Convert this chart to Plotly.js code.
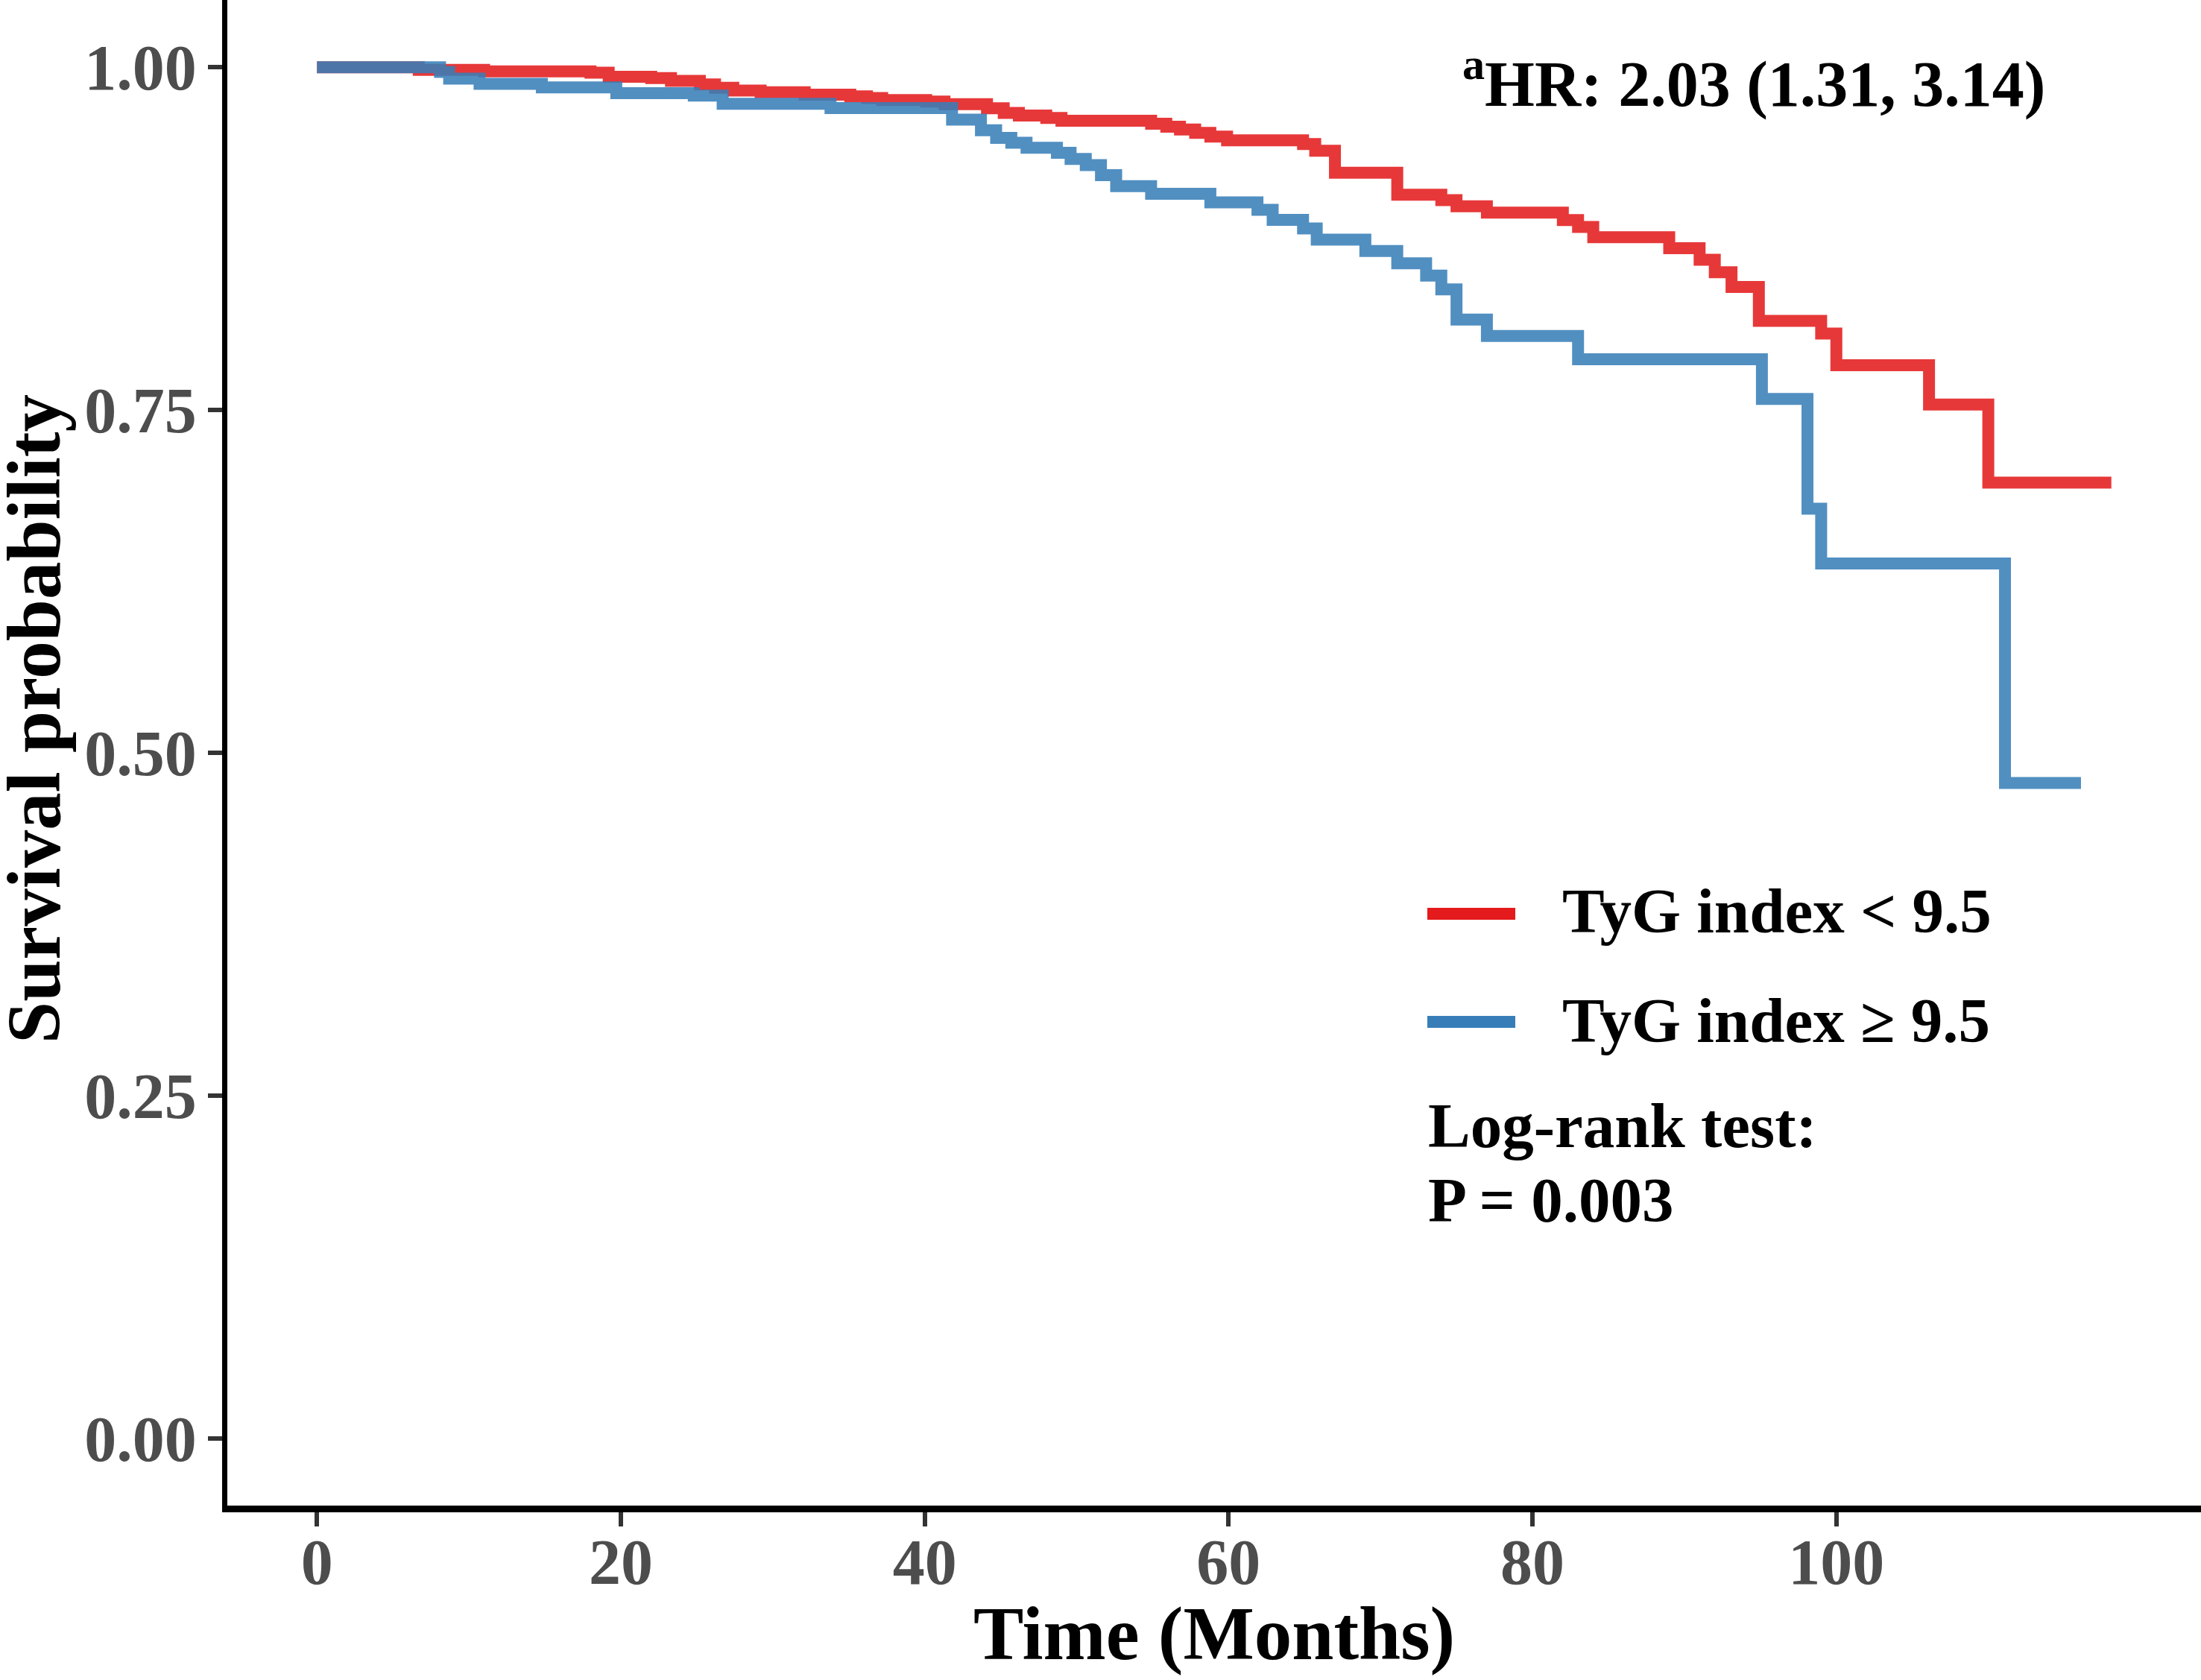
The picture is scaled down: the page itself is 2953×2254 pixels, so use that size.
<!DOCTYPE html>
<html>
<head>
<meta charset="utf-8">
<script src="https://cdn.plot.ly/plotly-3.0.1.min.js"></script>
<style>html,body{margin:0;padding:0;background:#fff;}#chart{width:2953px;height:2254px;}</style>
</head>
<body>
<div id="chart"></div>
<script>
// ---- data (Kaplan-Meier step curves) ----
var redName = "TyG index < 9.5";
var blueName = "TyG index \u2265 9.5";

var redTime = [0, 6.7, 11.0, 18.0, 19.2, 22.0, 23.3, 25.2, 26.2, 27.4, 29.2, 32.1, 35.1, 36.2, 37.2, 40.1, 41.3, 44.1, 45.2, 46.2, 48.0, 49.0, 54.9, 55.9, 56.8, 57.8, 58.8, 59.9, 64.9, 65.7, 67.0, 71.1, 74.0, 75.0, 77.0, 82.0, 83.0, 84.0, 89.0, 91.0, 92.0, 93.1, 94.9, 99.0, 100.0, 106.1, 110.0, 118.1];
var redSurv = [1.000, 0.998, 0.997, 0.996, 0.993, 0.992, 0.990, 0.9875, 0.985, 0.983, 0.9817, 0.980, 0.9788, 0.9775, 0.976, 0.975, 0.973, 0.970, 0.9666, 0.9648, 0.963, 0.961, 0.9588, 0.9566, 0.9545, 0.9521, 0.9494, 0.9467, 0.944, 0.939, 0.923, 0.907, 0.903, 0.8986, 0.894, 0.8885, 0.8835, 0.876, 0.868, 0.8596, 0.8504, 0.8397, 0.815, 0.8058, 0.7827, 0.754, 0.697, 0.697];

var blueTime = [0, 8.1, 8.7, 10.7, 14.8, 19.7, 24.8, 26.7, 33.8, 41.8, 43.7, 44.7, 45.7, 46.7, 48.7, 49.6, 50.6, 51.6, 52.6, 54.9, 58.8, 61.9, 62.9, 64.9, 65.8, 69.0, 71.1, 73.0, 74.0, 75.0, 77.0, 83.0, 95.1, 98.1, 99.0, 111.1, 116.1];
var blueSurv = [1.000, 0.9965, 0.9916, 0.9878, 0.9853, 0.981, 0.9793, 0.9733, 0.9702, 0.9617, 0.954, 0.9485, 0.9449, 0.9412, 0.9376, 0.9331, 0.9286, 0.9213, 0.9132, 0.9077, 0.9014, 0.896, 0.8887, 0.8824, 0.8742, 0.866, 0.857, 0.848, 0.838, 0.816, 0.804, 0.787, 0.758, 0.678, 0.638, 0.478, 0.478];

var xTicks = [0, 20, 40, 60, 80, 100];
var yTicks = [0, 0.25, 0.5, 0.75, 1.0];
var yTickText = ["0.00", "0.25", "0.50", "0.75", "1.00"];

var xTitle = "Time (Months)";
var yTitle = "Survival probability";
var hrText = "<sup>a</sup>HR: 2.03 (1.31, 3.14)";
var logrankText = "Log-rank test:";
var pText = "P = 0.003";

// ---- layout helpers (pixel -> paper) ----
var W = 2953, H = 2254, L = 305, R = 0, T = 0, B = 234;
var PW = W - L - R, PH = H - T - B;
function px(x) { return (x - L) / PW; }
function py(y) { return (H - B - y) / PH; }

var RED = "#E41A1C", BLUE = "#377EB8";
var FONT = "Liberation Serif, Times New Roman, serif";

var traces = [
  {x: redTime, y: redSurv, type: "scatter", mode: "lines", name: redName,
   line: {shape: "hv", color: RED, width: 16}, opacity: 0.87, hoverinfo: "skip"},
  {x: blueTime, y: blueSurv, type: "scatter", mode: "lines", name: blueName,
   line: {shape: "hv", color: BLUE, width: 16}, opacity: 0.87, hoverinfo: "skip"}
];

var tickFont = {family: FONT, size: 86, color: "#4D4D4D", weight: 700};

var layout = {
  width: W, height: H,
  margin: {l: L, r: R, t: T, b: B, pad: 0},
  paper_bgcolor: "#fff", plot_bgcolor: "#fff",
  showlegend: false,
  xaxis: {
    range: [-5.9, 124.0], tickvals: xTicks, ticktext: xTicks.map(String),
    showgrid: false, zeroline: false, showline: true, linecolor: "#000", linewidth: 9,
    ticks: "outside", ticklen: 19, tickwidth: 6, tickcolor: "#333",
    tickfont: tickFont, ticklabelstandoff: -26
  },
  yaxis: {
    range: [-0.049, 1.049], tickvals: yTicks, ticktext: yTickText,
    showgrid: false, zeroline: false, showline: true, linecolor: "#000", linewidth: 7,
    ticks: "outside", ticklen: 19, tickwidth: 6, tickcolor: "#333",
    tickfont: tickFont, ticklabelstandoff: -2
  },
  shapes: [
    {type: "line", xref: "paper", yref: "paper", x0: px(1915), x1: px(2033), y0: py(1226), y1: py(1226),
     line: {color: RED, width: 16}},
    {type: "line", xref: "paper", yref: "paper", x0: px(1915), x1: px(2033), y0: py(1371), y1: py(1371),
     line: {color: BLUE, width: 16}}
  ],
  annotations: [
    {text: hrText, xref: "paper", yref: "paper", x: px(1960), y: py(106), xanchor: "left", yanchor: "middle",
     showarrow: false, font: {family: FONT, size: 86, color: "#000", weight: 700}},
    {text: redName, xref: "paper", yref: "paper", x: px(2094), y: py(1222), xanchor: "left", yanchor: "middle",
     showarrow: false, font: {family: FONT, size: 85, color: "#000", weight: 700}},
    {text: blueName, xref: "paper", yref: "paper", x: px(2094), y: py(1369), xanchor: "left", yanchor: "middle",
     showarrow: false, font: {family: FONT, size: 85, color: "#000", weight: 700}},
    {text: logrankText, xref: "paper", yref: "paper", x: px(1914), y: py(1510), xanchor: "left", yanchor: "middle",
     showarrow: false, font: {family: FONT, size: 85, color: "#000", weight: 700}},
    {text: pText, xref: "paper", yref: "paper", x: px(1914), y: py(1610), xanchor: "left", yanchor: "middle",
     showarrow: false, font: {family: FONT, size: 85, color: "#000", weight: 700}},
    {text: xTitle, xref: "paper", yref: "paper", x: px(1629), y: py(2192), xanchor: "center", yanchor: "middle",
     showarrow: false, font: {family: FONT, size: 101, color: "#000", weight: 700}},
    {text: yTitle, xref: "paper", yref: "paper", x: px(46), y: py(965), xanchor: "center", yanchor: "middle",
     textangle: -90, showarrow: false, font: {family: FONT, size: 101, color: "#000", weight: 700}}
  ]
};

Plotly.newPlot("chart", traces, layout, {staticPlot: true, displayModeBar: false});
</script>
</body>
</html>
